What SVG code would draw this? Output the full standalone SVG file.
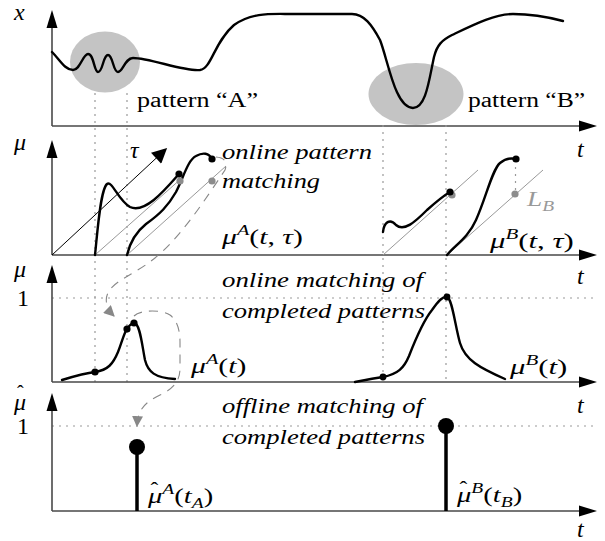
<svg xmlns="http://www.w3.org/2000/svg" width="605" height="541" viewBox="0 0 605 541">
<defs>
<style>
.axis{stroke:#4a4a4a;stroke-width:1.6;fill:none}
.head{fill:#000}
.curve{stroke:#000;stroke-width:2.4;fill:none;stroke-linecap:round}
.dot{stroke:#999;stroke-width:1.2;stroke-dasharray:2 5;fill:none}
.gline{stroke:#999;stroke-width:1;fill:none}
.dash{stroke:#888;stroke-width:1.1;stroke-dasharray:9 7;fill:none}
.bd{fill:#000}
.gd{fill:#8c8c8c}
.blob{fill:#c4c4c4}
.txt{font-family:"Liberation Serif","Times New Roman",serif;fill:#000}
.it{font-style:italic}
.stem{stroke:#000;stroke-width:3.5}
</style>
<marker id="garrow" viewBox="0 0 10 10" refX="9" refY="5" markerWidth="11" markerHeight="11" markerUnits="userSpaceOnUse" orient="auto">
<path d="M0,0 L10,5 L0,10 z" fill="#888"/>
</marker>
<marker id="barrow" viewBox="0 0 10 10" refX="9" refY="5" markerWidth="17" markerHeight="15" markerUnits="userSpaceOnUse" orient="auto">
<path d="M0,0 L10,5 L0,10 z" fill="#000"/>
</marker>
</defs>
<rect width="605" height="541" fill="#fff"/>

<!-- panel 1: signal x -->
<g id="panel1">
<ellipse class="blob" cx="105" cy="62" rx="35" ry="30.5"/>
<ellipse class="blob" cx="416" cy="94" rx="47.5" ry="31"/>
<path class="axis" d="M52,126 V26 M52,126 H580"/>
<polygon class="head" points="52,10 46.5,28 57.5,28"/>
<polygon class="head" points="597,126 579,120.5 579,131.5"/>
<path class="curve" d="M52,52 C60,60 65,70 73,70 C80,70 83,54 88,54 C94,54 94,72 98,72 C103,72 103,55 108,55 C113,55 113,72 118,72 C123,72 125,58 133,58 C150,58 185,72 200,70 C212,68 214,42 234,25 C252,12 272,14 292,14 L352,14 C364,14 372,25 380,40 C388,60 395,108 413,108 C426,108 429,80 434,57 C437,45 442,40 452,35 C475,24 495,14 513,14 C530,14 548,17 563,21"/>
<text class="txt it" x="14" y="20" font-size="24">x</text>
<text class="txt" x="137" y="107" font-size="20" textLength="121" lengthAdjust="spacingAndGlyphs">pattern “A”</text>
<text class="txt" x="468" y="107" font-size="20" textLength="117" lengthAdjust="spacingAndGlyphs">pattern “B”</text>
<text class="txt it" x="577" y="157" font-size="24">t</text>
</g>

<!-- vertical dotted guides -->
<g id="guides">
<path class="dot" d="M95,93 V382 M127,93 V382 M383,125 V382 M446,125 V382"/>
<path class="dot" d="M52,298 H597 M52,426 H597"/>
</g>

<!-- panel 2: online pattern matching -->
<g id="panel2">
<path class="axis" d="M52,255 V156 M52,255 H580"/>
<polygon class="head" points="52,140 46.5,158 57.5,158"/>
<polygon class="head" points="597,255 579,249.5 579,260.5"/>
<path d="M52,255 L166,149" stroke="#000" stroke-width="1" marker-end="url(#barrow)"/>
<path class="gline" d="M95,255 L183,177 M127,255 L226,166 M383,255 L478,170 M447,255 L543,170"/>
<path class="curve" d="M95,255 C97,238 100,190 107,184 C112,180 118,200 130,207 C145,214 165,190 179,174"/>
<path class="curve" d="M127,255 C130,242 136,232 146,224 C160,214 168,206 176,192 C184,176 188,160 196,156 C203,152 209,153 212,159"/>
<path class="curve" d="M383,232 C384,222 390,218 396,225 C404,232 415,222 427,210 C436,202 443,196 450,192"/>
<path class="curve" d="M447,255 C455,245 468,238 476,220 C486,198 492,170 500,163 C506,158 512,158 516,159"/>
<path class="dot" d="M515.5,160 V194"/>
<circle class="gd" cx="180" cy="181" r="3.6"/>
<circle class="gd" cx="212" cy="181" r="3.6"/>
<circle class="gd" cx="452" cy="195" r="3.6"/>
<circle class="gd" cx="515" cy="194" r="3.6"/>
<circle class="bd" cx="179" cy="174" r="3.6"/>
<circle class="bd" cx="212" cy="159" r="3.6"/>
<circle class="bd" cx="450" cy="192" r="3.6"/>
<circle class="bd" cx="516" cy="159" r="3.6"/>
<text class="txt it" x="14" y="150" font-size="24">μ</text>
<text class="txt it" x="130" y="158" font-size="24">τ</text>
<text class="txt it" x="222" y="159" font-size="21" textLength="150" lengthAdjust="spacingAndGlyphs">online pattern</text>
<text class="txt it" x="222" y="188" font-size="21" textLength="98" lengthAdjust="spacingAndGlyphs">matching</text>
<text class="txt it" transform="translate(527,206) scale(1.3,1)" font-size="21" style="fill:#999">L<tspan font-size="15" dy="5">B</tspan></text>
<text class="txt" transform="translate(222,244) scale(1.35,1)" font-size="22"><tspan class="it">μ</tspan><tspan class="it" font-size="15" dy="-9">A</tspan><tspan dy="9">(</tspan><tspan class="it">t</tspan><tspan>, </tspan><tspan class="it">τ</tspan><tspan>)</tspan></text>
<text class="txt" transform="translate(490,248) scale(1.4,1)" font-size="22"><tspan class="it">μ</tspan><tspan class="it" font-size="15" dy="-9">B</tspan><tspan dy="9">(</tspan><tspan class="it">t</tspan><tspan>, </tspan><tspan class="it">τ</tspan><tspan>)</tspan></text>
<text class="txt it" x="577" y="284" font-size="24">t</text>
</g>

<!-- panel 3: online matching of completed patterns -->
<g id="panel3">
<path class="axis" d="M52,382 V281 M52,382 H580"/>
<polygon class="head" points="52,265 46.5,283 57.5,283"/>
<polygon class="head" points="597,382 579,376.5 579,387.5"/>
<path class="curve" d="M62,380 C75,376 85,373 95,372 C108,370 113,364 118,352 C122,342 124,333 127,329 C129,326 131,323 134,323 C140,323 142,345 145,360 C148,372 155,378 175,379"/>
<path class="curve" d="M355,382 C365,380 375,378 383,377 C398,374 404,368 409,356 C416,338 424,320 432,310 C439,300 443,296 447,297 C452,298 455,325 460,343 C465,360 480,368 505,379"/>
<circle class="bd" cx="95" cy="372" r="3.6"/>
<circle class="bd" cx="127" cy="329" r="3.6"/>
<circle class="bd" cx="134" cy="323" r="3.6"/>
<circle class="bd" cx="383" cy="377" r="3.4"/>
<circle class="bd" cx="447" cy="297" r="3.4"/>
<text class="txt it" x="14" y="277" font-size="24">μ</text>
<text class="txt" x="17" y="306" font-size="24">1</text>
<text class="txt it" x="222" y="287" font-size="21" textLength="201" lengthAdjust="spacingAndGlyphs">online matching of</text>
<text class="txt it" x="222" y="318" font-size="21" textLength="203" lengthAdjust="spacingAndGlyphs">completed patterns</text>
<text class="txt" transform="translate(191,373) scale(1.35,1)" font-size="22"><tspan class="it">μ</tspan><tspan class="it" font-size="15" dy="-9">A</tspan><tspan dy="9">(</tspan><tspan class="it">t</tspan><tspan>)</tspan></text>
<text class="txt" transform="translate(510,374) scale(1.4,1)" font-size="22"><tspan class="it">μ</tspan><tspan class="it" font-size="15" dy="-9">B</tspan><tspan dy="9">(</tspan><tspan class="it">t</tspan><tspan>)</tspan></text>
<text class="txt it" x="577" y="413" font-size="24">t</text>
</g>

<!-- panel 4: offline matching -->
<g id="panel4">
<path class="axis" d="M52,511 V410 M52,511 H580"/>
<polygon class="head" points="52,393 46.5,411 57.5,411"/>
<polygon class="head" points="597,511 579,505.5 579,516.5"/>
<line class="stem" x1="137" y1="447" x2="137" y2="511"/>
<line class="stem" x1="446" y1="426" x2="446" y2="511"/>
<circle class="bd" cx="137" cy="447" r="8"/>
<circle class="bd" cx="446" cy="426" r="8"/>
<text class="txt" font-size="24"><tspan x="17" y="400" font-size="20">ˆ</tspan><tspan class="it" x="14" y="410">μ</tspan></text>
<text class="txt" x="17" y="434" font-size="24">1</text>
<text class="txt it" x="222" y="413" font-size="21" textLength="201" lengthAdjust="spacingAndGlyphs">offline matching of</text>
<text class="txt it" x="222" y="444" font-size="21" textLength="203" lengthAdjust="spacingAndGlyphs">completed patterns</text>
<text class="txt" transform="translate(148,503) scale(1.3,1)" font-size="22"><tspan x="2" y="-8" font-size="18">ˆ</tspan><tspan class="it" x="0" y="0">μ</tspan><tspan class="it" font-size="15" dy="-9">A</tspan><tspan dy="9">(</tspan><tspan class="it">t</tspan><tspan class="it" font-size="15" dy="5">A</tspan><tspan dy="-5">)</tspan></text>
<text class="txt" transform="translate(457,502) scale(1.3,1)" font-size="22"><tspan x="2" y="-8" font-size="18">ˆ</tspan><tspan class="it" x="0" y="0">μ</tspan><tspan class="it" font-size="15" dy="-9">B</tspan><tspan dy="9">(</tspan><tspan class="it">t</tspan><tspan class="it" font-size="15" dy="5">B</tspan><tspan dy="-5">)</tspan></text>
<text class="txt it" x="577" y="537" font-size="24">t</text>
</g>

<!-- dashed connectors -->
<g id="connectors">
<path class="dash" d="M216,157 Q229,158 225,170 C205,200 180,238 155,258 C135,274 116,280 109,291 C104,299 106,308 114,316" marker-end="url(#garrow)"/>
<path class="dash" d="M134,316 C140,310 160,309 170,315 C178,321 180,332 180,342 L180,368 C180,380 175,388 160,395 C146,402 138,408 137,426" marker-end="url(#garrow)"/>
</g>
</svg>
